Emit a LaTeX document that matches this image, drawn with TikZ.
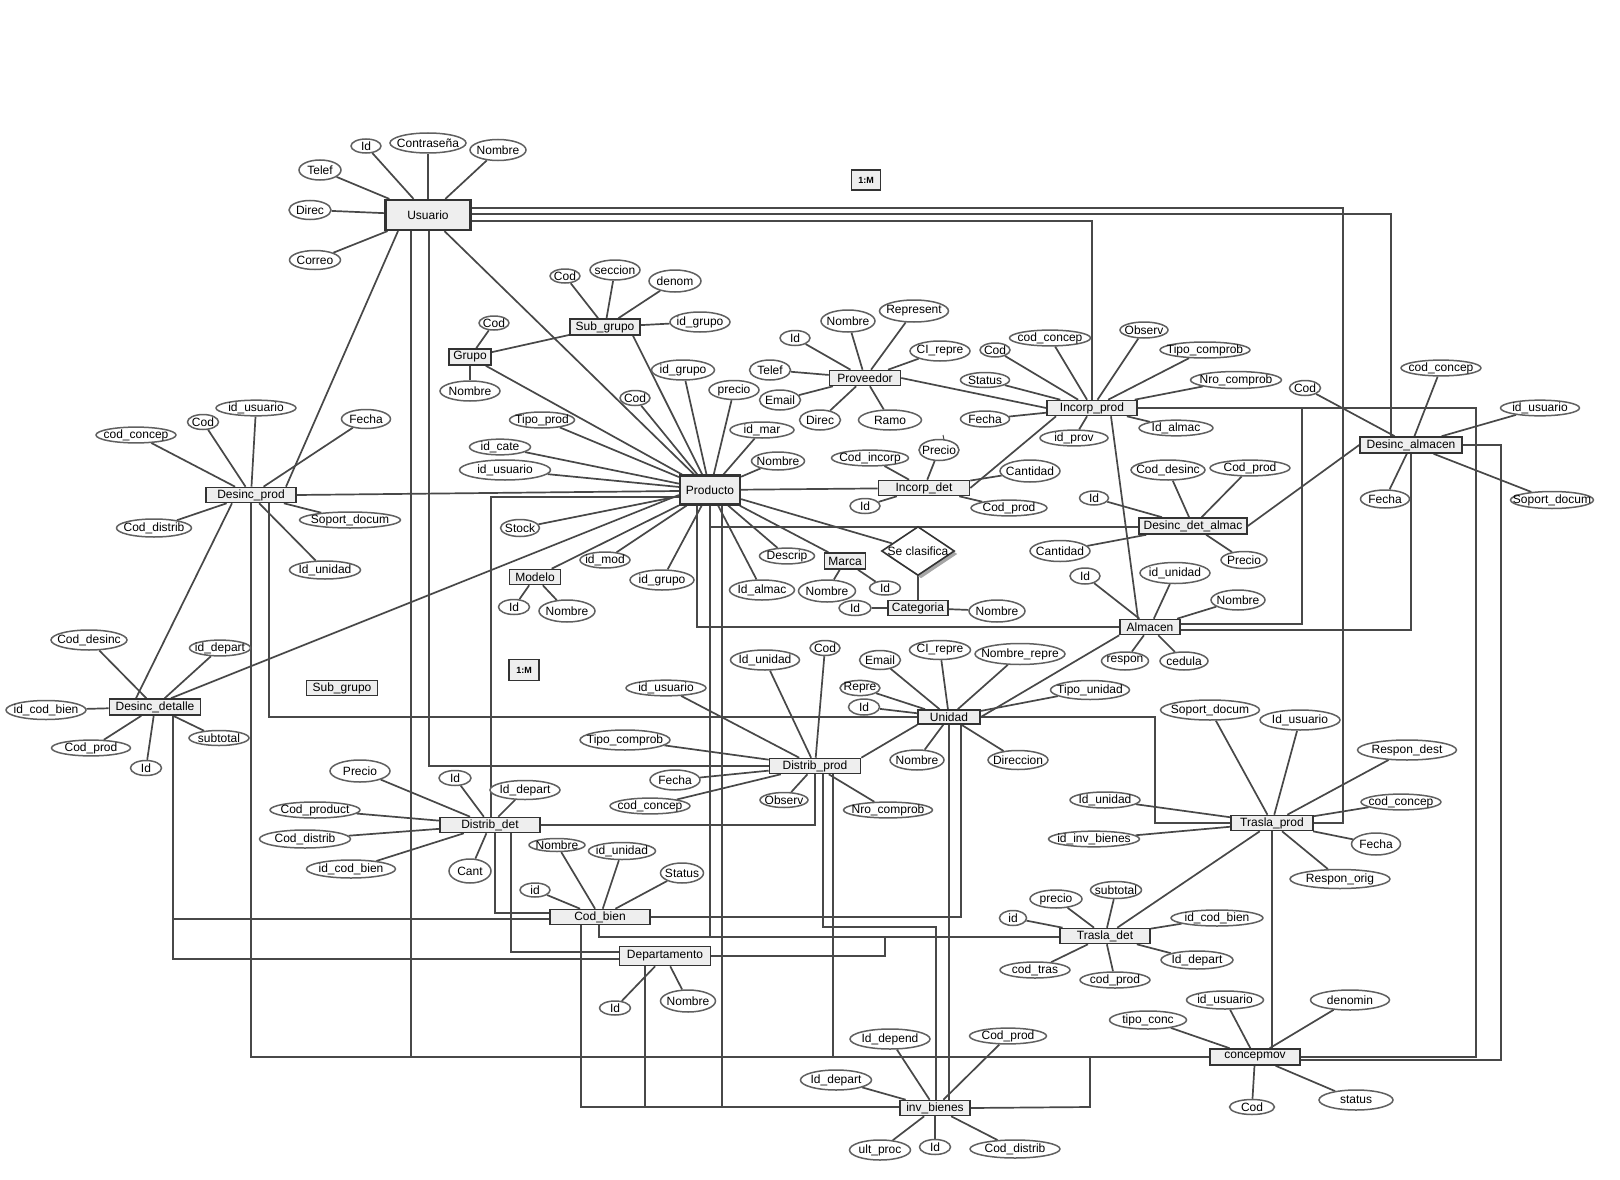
\documentclass[tikz,border=0pt]{standalone}
\usepackage{fontspec}
\setmainfont{Liberation Sans}
\usetikzlibrary{shapes.geometric,shadows}
\pgfdeclarelayer{bg}
\pgfsetlayers{bg,main}
\definecolor{cEnt}{HTML}{EEEEEE}
\definecolor{cBor}{HTML}{333333}
\definecolor{cAtt}{HTML}{606060}
\definecolor{cLn}{HTML}{484848}
\newcommand\fsz{\fontsize{12}{14}\selectfont}
\newcommand\Ent[6]{\node[ent,minimum width=#4,minimum height=#5] (#1) at (#2,#3) {\makebox[0pt]{#6}};}
\newcommand\Att[6]{\node[attr,minimum width=#4,minimum height=#5] (#1) at (#2,#3) {\makebox[0pt]{#6}};}
\tikzset{
  ent/.style={rectangle,draw=cBor,fill=cEnt,line width=1.6pt,inner sep=0pt,font=\fsz},
  bigent/.style={ent,line width=2.2pt},
  attr/.style={ellipse,draw=cAtt,fill=white,line width=1.5pt,inner sep=0pt,font=\fsz},
  ln/.style={draw=cLn,line width=1.7pt},
  mbox/.style={rectangle,draw=cBor,fill=cEnt,line width=1.6pt,inner sep=0pt,font=\bfseries\fontsize{9}{10}\selectfont},
}
\begin{document}
\begin{tikzpicture}[x=1pt,y=-1pt]
\useasboundingbox (0,0) rectangle (1620,1180);
% ---------------- entities
\node[bigent,minimum width=85,minimum height=30] (usr) at (428,215) {\makebox[0pt]{Usuario}};
\node[bigent,minimum width=60,minimum height=29] (pr) at (710,490) {\makebox[0pt]{Producto}};
\Ent{grp}{470}{357}{42}{16}{Grupo}
\Ent{sg}{605}{327}{70}{16}{Sub\_grupo}
\Ent{pv}{865}{378}{71}{15}{Proveedor}
\Ent{ip}{1092}{408}{90}{15}{Incorp\_prod}
\Ent{idt}{924}{488}{91}{15}{Incorp\_det}
\Ent{da}{1411}{445}{102}{16}{Desinc\_almacen}
\Ent{dd}{1193}{526}{108}{16}{Desinc\_det\_almac}
\Ent{al}{1150}{627}{60}{15}{Almacen}
\Ent{mo}{535}{577}{51}{15}{Modelo}
\Ent{ma}{845}{561}{41}{16}{Marca}
\Ent{ca}{918}{608}{60}{15}{Categoria}
\Ent{dp}{251}{495}{90}{15}{Desinc\_prod}
\Ent{de}{155}{707}{91}{16}{Desinc\_detalle}
\Ent{sgb}{342}{688}{71}{15}{Sub\_grupo}
\Ent{un}{949}{717}{62}{14}{Unidad}
\Ent{dv}{815}{766}{91}{15}{Distrib\_prod}
\Ent{dt}{490}{825}{100}{15}{Distrib\_det}
\Ent{cb}{600}{917}{100}{15}{Cod\_bien}
\Ent{dep}{665}{956}{91}{19}{Departamento}
\Ent{tp}{1272}{823}{82}{15}{Trasla\_prod}
\Ent{td}{1105}{936}{90}{15}{Trasla\_det}
\Ent{cm}{1255}{1057}{90}{16}{concepmov}
\Ent{ib}{935}{1108}{70}{15}{inv\_bienes}
\node[mbox,minimum width=29,minimum height=20] (mA) at (866,180) {1:M};
\node[mbox,minimum width=30,minimum height=21] (mB) at (524,670) {1:M};
\node[diamond,draw=cBor,fill=white,line width=1.6pt,inner sep=0pt,minimum width=73,minimum height=49,font=\fsz,
  drop shadow={shadow xshift=3pt,shadow yshift=-3pt,fill=black!35,opacity=1}] (sc) at (918,551) {\makebox[0pt]{Se clasifica}};
% ---------------- attributes
\Att{uId}{366}{146}{30}{14}{Id}
\Att{uPw}{428}{143}{76}{20}{Contraseña}
\Att{uNom}{498}{150}{56}{21}{Nombre}
\Att{uTel}{320}{170}{42}{20}{Telef}
\Att{uDir}{310}{210}{42}{19}{Direc}
\Att{uCor}{315}{260}{51}{19}{Correo}
\Att{gCod}{494}{323}{30}{14}{Cod}
\Att{gNom}{470}{391}{60}{20}{Nombre}
\Att{sgCod}{565}{276}{30}{14}{Cod}
\Att{sgSec}{615}{270}{50}{20}{seccion}
\Att{sgDen}{675}{281}{52}{22}{denom}
\Att{sgIdg}{700}{322}{60}{20}{id\_grupo}
\Att{prIdg}{683}{370}{63}{20}{id\_grupo}
\Att{prCod}{635}{398}{30}{15}{Cod}
\Att{prPre}{734}{390}{50}{19}{precio}
\Att{prMar}{762}{430}{64}{16}{id\_mar}
\Att{prNom}{778}{461}{53}{18}{Nombre}
\Att{prTip}{542}{420}{65}{16}{Tipo\_prod}
\Att{prCat}{500}{447}{61}{15}{id\_cate}
\Att{prUsu}{505}{470}{91}{20}{id\_usuario}
\Att{prSto}{520}{528}{39}{17}{Stock}
\Att{prMod}{605}{560}{50}{16}{id\_mod}
\Att{prIdg2}{662}{580}{64}{20}{id\_grupo}
\Att{prDes}{787}{556}{55}{14}{Descrip}
\Att{prAlm}{762}{590}{65}{20}{Id\_almac}
\Att{moId}{514}{607}{31}{15}{Id}
\Att{moNom}{567}{611}{56}{22}{Nombre}
\Att{maNom}{827}{591}{57}{22}{Nombre}
\Att{maId}{885}{588}{31}{14}{Id}
\Att{caId}{855}{608}{32}{15}{Id}
\Att{caNom}{997}{611}{56}{22}{Nombre}
\Att{pvId}{795}{338}{30}{15}{Id}
\Att{pvNom}{848}{321}{54}{22}{Nombre}
\Att{pvRep}{914}{311}{69}{22}{Represent}
\Att{pvCI}{940}{351}{60}{20}{CI\_repre}
\Att{pvTel}{770}{370}{41}{20}{Telef}
\Att{pvEma}{780}{400}{41}{20}{Email}
\Att{pvDir}{820}{420}{41}{20}{Direc}
\Att{pvRam}{890}{420}{63}{20}{Ramo}
\Att{idCod}{870}{458}{77}{15}{Cod\_incorp}
\Att{idPre}{939}{450}{40}{21}{Precio}
\Att{idId}{865}{506}{30}{15}{Id}
\Att{idCan}{1030}{471}{60}{22}{Cantidad}
\Att{idCp}{1009}{508}{76}{15}{Cod\_prod}
\Att{ipCod}{995}{350}{30}{14}{Cod}
\Att{ipCc}{1050}{338}{81}{13}{cod\_concep}
\Att{ipObs}{1144}{330}{48}{16}{Observ}
\Att{ipTc}{1205}{350}{90}{16}{Tipo\_comprob}
\Att{ipNc}{1236}{380}{91}{17}{Nro\_comprob}
\Att{ipSt}{985}{380}{49}{15}{Status}
\Att{ipFe}{985}{419}{49}{16}{Fecha}
\Att{ipPv}{1074}{438}{68}{13}{id\_prov}
\Att{ipAl}{1176}{428}{74}{14}{Id\_almac}
\Att{daCod}{1305}{388}{31}{15}{Cod}
\Att{daCc}{1441}{368}{80}{13}{cod\_concep}
\Att{daUs}{1540}{408}{79}{14}{id\_usuario}
\Att{daFe}{1385}{499}{49}{18}{Fecha}
\Att{daSd}{1552}{500}{83}{17}{Soport\_docum}
\Att{ddId}{1094}{498}{29}{14}{Id}
\Att{ddCd}{1168}{470}{74}{20}{Cod\_desinc}
\Att{ddCp}{1250}{468}{80}{14}{Cod\_prod}
\Att{ddCan}{1060}{551}{60}{21}{Cantidad}
\Att{ddPre}{1244}{560}{46}{17}{Precio}
\Att{alId}{1085}{576}{30}{16}{Id}
\Att{alUn}{1175}{573}{70}{21}{id\_unidad}
\Att{alNom}{1238}{600}{54}{20}{Nombre}
\Att{alRes}{1125}{661}{47}{18}{respon}
\Att{alCed}{1184}{661}{48}{18}{cedula}
\Att{dpUs}{256}{408}{80}{15}{id\_usuario}
\Att{dpCod}{203}{422}{31}{15}{Cod}
\Att{dpCc}{136}{435}{80}{14}{cod\_concep}
\Att{dpFe}{366}{419}{49}{19}{Fecha}
\Att{dpCd}{154}{528}{75}{18}{Cod\_distrib}
\Att{dpSd}{350}{520}{101}{16}{Soport\_docum}
\Att{dpUn}{325}{570}{71}{18}{Id\_unidad}
\Att{deCd}{89}{640}{76}{20}{Cod\_desinc}
\Att{deDep}{220}{648}{61}{15}{id\_depart}
\Att{deCb}{46}{710}{80}{19}{id\_cod\_bien}
\Att{deCp}{91}{748}{79}{15}{Cod\_prod}
\Att{deId}{146}{768}{31}{15}{Id}
\Att{deSub}{219}{738}{60}{15}{subtotal}
\Att{unEma}{880}{660}{41}{19}{Email}
\Att{unCI}{940}{650}{61}{19}{CI\_repre}
\Att{unNr}{1020}{654}{90}{21}{Nombre\_repre}
\Att{unRep}{860}{688}{40}{14}{Repre}
\Att{unId}{864}{707}{31}{16}{Id}
\Att{unTu}{1090}{690}{79}{19}{Tipo\_unidad}
\Att{unNom}{917}{760}{54}{20}{Nombre}
\Att{unDir}{1018}{760}{60}{19}{Direccion}
\Att{dvUn}{765}{660}{69}{20}{Id\_unidad}
\Att{dvCod}{825}{648}{30}{15}{Cod}
\Att{dvUs}{666}{688}{80}{14}{id\_usuario}
\Att{dvTc}{625}{740}{90}{20}{Tipo\_comprob}
\Att{dvFe}{675}{780}{50}{20}{Fecha}
\Att{dvCc}{650}{806}{80}{13}{cod\_concep}
\Att{dvObs}{784}{800}{48}{15}{Observ}
\Att{dvNc}{888}{810}{89}{14}{Nro\_comprob}
\Att{dtPre}{360}{771}{60}{22}{Precio}
\Att{dtCp}{315}{810}{90}{16}{Cod\_product}
\Att{dtCd}{305}{839}{91}{18}{Cod\_distrib}
\Att{dtCb}{351}{869}{89}{18}{id\_cod\_bien}
\Att{dtId}{455}{778}{32}{15}{Id}
\Att{dtDep}{525}{790}{70}{19}{Id\_depart}
\Att{dtCan}{470}{871}{42}{24}{Cant}
\Att{cbNom}{557}{845}{56}{13}{Nombre}
\Att{cbUn}{622}{851}{67}{17}{id\_unidad}
\Att{cbId}{535}{890}{30}{14}{id}
\Att{cbSt}{682}{873}{43}{20}{Status}
\Att{depId}{615}{1008}{31}{14}{Id}
\Att{depNom}{688}{1001}{55}{22}{Nombre}
\Att{tpSd}{1210}{710}{99}{20}{Soport\_docum}
\Att{tpUs}{1300}{720}{80}{20}{Id\_usuario}
\Att{tpRd}{1407}{750}{99}{20}{Respon\_dest}
\Att{tpCc}{1401}{802}{80}{13}{cod\_concep}
\Att{tpFe}{1376}{844}{49}{22}{Fecha}
\Att{tpRo}{1340}{879}{100}{19}{Respon\_orig}
\Att{tpUn}{1105}{800}{70}{16}{Id\_unidad}
\Att{tpIb}{1094}{839}{91}{15}{id\_inv\_bienes}
\Att{tdId}{1013}{918}{27}{15}{id}
\Att{tdPre}{1056}{899}{52}{18}{precio}
\Att{tdSub}{1116}{890}{51}{17}{subtotal}
\Att{tdCt}{1035}{970}{70}{16}{cod\_tras}
\Att{tdCp}{1115}{980}{70}{16}{cod\_prod}
\Att{tdCb}{1217}{918}{92}{16}{id\_cod\_bien}
\Att{tdDep}{1197}{960}{72}{18}{Id\_depart}
\Att{cmTc}{1148}{1020}{77}{18}{tipo\_conc}
\Att{cmUs}{1225}{1000}{77}{18}{id\_usuario}
\Att{cmDen}{1350}{1000}{79}{20}{denomin}
\Att{cmCod}{1252}{1107}{45}{15}{Cod}
\Att{cmSt}{1356}{1100}{74}{20}{status}
\Att{ibDep}{890}{1039}{80}{20}{Id\_depend}
\Att{ibCp}{1008}{1036}{77}{13}{Cod\_prod}
\Att{ibDp}{836}{1080}{71}{20}{Id\_depart}
\Att{ibUp}{880}{1150}{61}{20}{ult\_proc}
\Att{ibId}{935}{1147}{31}{15}{Id}
\Att{ibCd}{1015}{1149}{90}{18}{Cod\_distrib}
% ---------------- connectors (behind the shapes)
\begin{pgfonlayer}{bg}
\fill[white] (0,0) rectangle (1620,1180);
\foreach \e/\L in {usr/{uId,uPw,uNom,uTel,uDir,uCor},
  grp/{gCod,gNom}, sg/{sgCod,sgSec,sgDen,sgIdg},
  pr/{prIdg,prCod,prPre,prMar,prNom,prTip,prCat,prUsu,prSto,prMod,prIdg2,prDes,prAlm},
  mo/{moId,moNom}, ma/{maNom,maId}, ca/{caId,caNom},
  pv/{pvId,pvNom,pvRep,pvCI,pvTel,pvEma,pvDir,pvRam},
  idt/{idCod,idPre,idId,idCan,idCp},
  ip/{ipCod,ipCc,ipObs,ipTc,ipNc,ipSt,ipFe,ipPv,ipAl},
  da/{daCod,daCc,daUs,daFe,daSd},
  dd/{ddId,ddCd,ddCp,ddCan,ddPre},
  al/{alId,alUn,alNom,alRes,alCed},
  dp/{dpUs,dpCod,dpCc,dpFe,dpCd,dpSd,dpUn},
  de/{deCd,deDep,deCb,deCp,deId,deSub},
  un/{unEma,unCI,unNr,unRep,unId,unTu,unNom,unDir},
  dv/{dvUn,dvCod,dvUs,dvTc,dvFe,dvCc,dvObs,dvNc},
  dt/{dtPre,dtCp,dtCd,dtCb,dtId,dtDep,dtCan},
  cb/{cbNom,cbUn,cbId,cbSt}, dep/{depId,depNom},
  tp/{tpSd,tpUs,tpRd,tpCc,tpFe,tpRo,tpUn,tpIb},
  td/{tdId,tdPre,tdSub,tdCt,tdCp,tdCb,tdDep},
  cm/{cmTc,cmUs,cmDen,cmCod,cmSt},
  ib/{ibDep,ibCp,ibDp,ibUp,ibId,ibCd}}
  {\foreach \a in \L {\draw[ln] (\e) -- (\a);}}
% stray tick above Precio
\draw[ln,line width=1pt] (943,435) -- (944,440);
% diagonal relations
\draw[ln] (usr) -- (pr);
\draw[ln] (398,0 |- usr.south) -- (286,0 |- dp.north);
\draw[ln] (grp) -- (sg);
\draw[ln] (grp) -- (pr);
\draw[ln] (633,0 |- sg.south) -- (pr);
\draw[ln] (dp.east) -- (pr.west |- 0,491);
\draw[ln] (232,0 |- dp.south) -- (136,0 |- de.north);
\draw[ln] (171,0 |- de.north) -- (pr.west |- 0,495);
\draw[ln] (pr) -- (idt);
\draw[ln] (pr) -- (mo);
\draw[ln] (pr) -- (ma);
\draw[ln] (pr) -- (sc);
\draw[ln] (sc) -- (ca);
\draw[ln] (pv.east) -- (ip.west);
\draw[ln] (idt.east) -- (1056,0 |- ip.south);
\draw[ln] (1111,0 |- ip.south) -- (1138,0 |- al.north);
\draw[ln] (da.west) -- (dd.east);
\draw[ln] (un.east) -- (al.south west);
\draw[ln] (un.south west) -- (dv.north east);
\draw[ln] (tp) -- (td);
% orthogonal relations
\draw[ln] (usr.east |- 0,221) -- (1092,221) -- (ip.north);
\draw[ln] (usr.east |- 0,214) -- (1391,214) -- (1391,0 |- da.north);
\draw[ln] (usr.east |- 0,208) -- (1343,208) -- (1343,823) -- (tp.east);
\draw[ln] (411,0 |- usr.south) -- (411,1057) -- (cm.west);
\draw[ln] (429,0 |- usr.south) -- (429,766) -- (dv.west);
\draw[ln] (251,0 |- dp.south) -- (251,1057) -- (411,1057);
\draw[ln] (269,0 |- dp.south) -- (269,717) -- (un.west);
\draw[ln] (un.east) -- (1155,717) -- (1155,823) -- (tp.west);
\draw[ln] (pr.west |- 0,497) -- (491,497) -- (491,0 |- dt.north);
\draw[ln] (710,0 |- pr.south) -- (710,527) -- (dd.west |- 0,527);
\draw[ln] (697,0 |- pr.south) -- (697,627) -- (al.west);
\draw[ln] (710,0 |- pr.south) -- (710,937) -- (td.west |- 0,937);
\draw[ln] (722,0 |- pr.south) -- (722,1107) -- (ib.west |- 0,1107);
\draw[ln] (ip.east) -- (1302,408) -- (1302,624) -- (al.east |- 0,624);
\draw[ln] (ip.east) -- (1476,408) -- (1476,1057) -- (cm.east |- 0,1057);
\draw[ln] (da.east) -- (1501,445) -- (1501,1060) -- (cm.east |- 0,1060);
\draw[ln] (1411,0 |- da.south) -- (1411,630) -- (al.east |- 0,630);
\draw[ln] (173,0 |- de.south) -- (173,919) -- (cb.west |- 0,919);
\draw[ln] (173,919) -- (173,959) -- (dep.west |- 0,959);
\draw[ln] (495,0 |- dt.south) -- (495,913) -- (cb.west |- 0,913);
\draw[ln] (511,0 |- dt.south) -- (511,952) -- (dep.west |- 0,952);
\draw[ln] (dt.east) -- (815,825) -- (815,0 |- dv.south);
\draw[ln] (823,0 |- dv.south) -- (823,927) -- (936,927) -- (936,0 |- ib.north);
\draw[ln] (833,0 |- dv.south) -- (833,1057);
\draw[ln] (949,0 |- un.south) -- (949,0 |- ib.north);
\draw[ln] (961,0 |- un.south) -- (961,917) -- (cb.east);
\draw[ln] (599,0 |- cb.south) -- (599,937) -- (710,937);
\draw[ln] (dep.east) -- (885,956) -- (885,937);
\draw[ln] (581,0 |- cb.south) -- (581,1107) -- (ib.west |- 0,1107);
\draw[ln] (645,0 |- dep.south) -- (645,1107);
\draw[ln] (ib.east) -- (1090,1107) -- (1090,1057);
\draw[ln] (1272,0 |- tp.south) -- (1272,0 |- cm.north);
\end{pgfonlayer}
\end{tikzpicture}
\end{document}
